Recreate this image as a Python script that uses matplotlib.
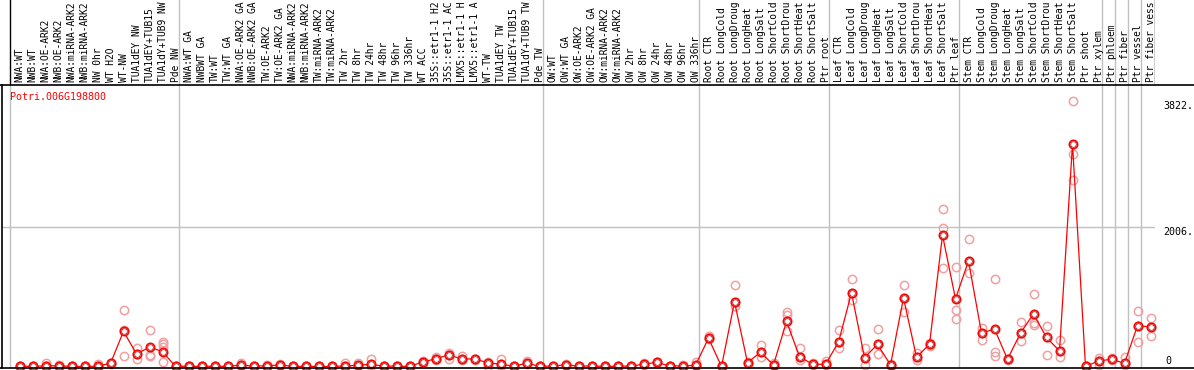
import matplotlib.pyplot as plt
from matplotlib.lines import Line2D

gene = "Potri.006G198800"

labels = [
    "NWA:WT", "NWB:WT", "NWA:OE-ARK2", "NWB:OE-ARK2", "NWA:miRNA-ARK2", "NWB:miRNA-ARK2",
    "NW 0hr", "WT H2O", "WT-NW", "TUA1dEY NW", "TUA1dEY+TUB15", "TUA1dY+TUB9 NW", "Pde NW",
    "NWA:WT GA", "NWBWT GA", "TW:WT", "TW:WT GA", "NWA:OE-ARK2 GA", "NWB:OE-ARK2 GA",
    "TW:OE-ARK2", "TW:OE-ARK2 GA", "NWA:miRNA-ARK2", "NWB:miRNA-ARK2", "TW:miRNA-ARK2",
    "TW:miRNA-ARK2", "TW 2hr", "TW 8hr", "TW 24hr", "TW 48hr", "TW 96hr", "TW 336hr", "WT ACC",
    "35S::etr1-1 H2", "35S::etr1-1 AC", "LMX5::etr1-1 H", "LMX5::etr1-1 A", "WT-TW",
    "TUA1dEY TW", "TUA1dEY+TUB15", "TUA1dY+TUB9 TW", "Pde TW",
    "OW:WT", "OW:WT GA", "OW:OE-ARK2", "OW:OE-ARK2 GA", "OW:miRNA-ARK2", "OW:miRNA-ARK2",
    "OW 2hr", "OW 8hr", "OW 24hr", "OW 48hr", "OW 96hr", "OW 336hr",
    "Root CTR", "Root LongCold", "Root LongDroug", "Root LongHeat", "Root LongSalt",
    "Root ShortCold", "Root ShortDrou", "Root ShortHeat", "Root ShortSalt", "Ptr root",
    "Leaf CTR", "Leaf LongCold", "Leaf LongDroug", "Leaf LongHeat", "Leaf LongSalt",
    "Leaf ShortCold", "Leaf ShortDrou", "Leaf ShortHeat", "Leaf ShortSalt", "Ptr leaf",
    "Stem CTR", "Stem LongCold", "Stem LongDroug", "Stem LongHeat", "Stem LongSalt",
    "Stem ShortCold", "Stem ShortDrou", "Stem ShortHeat", "Stem ShortSalt", "Ptr shoot",
    "Ptr xylem", "Ptr phloem", "Ptr fiber", "Ptr vessel", "Ptr fiber vess",
]

means = [5, 0, 10, 10, 0, 0, 5, 45, 505, 181,
         278, 215, 0, 5, 0, 5, 0, 22, 5, 10,
         22, 3, 3, 0, 0, 8, 17, 32, 5, 5,
         0, 65, 109, 167, 109, 109, 55, 32, 5, 46,
         5, 5, 26, 5, 8, 0, 5, 5, 32, 60,
         8, 8, 17, 408, 0, 930, 55, 205, 22, 649,
         142, 32, 32, 350, 1060, 128, 318, 22, 987, 133,
         321, 1890, 973, 1518, 481, 539, 104, 481, 756, 417,
         225, 3198, 0, 80, 104, 46, 587, 568]

reps = [
    [0, 5, 10], [0, 0, 5], [5, 10, 50], [5, 10, 20], [0, 0, 5], [0, 0, 5], [0, 5, 30],
    [40, 45, 50], [152, 529, 808], [104, 181, 272], [152, 166, 529], [70, 287, 321, 355],
    [0, 0, 5], [0, 5, 10], [0, 0, 5], [0, 5, 10], [0, 0, 5], [10, 22, 46], [0, 5, 10],
    [5, 10, 20], [15, 22, 30], [0, 3, 8], [0, 3, 5], [0, 0, 2], [0, 0, 2], [5, 8, 46],
    [10, 17, 55], [10, 32, 113], [0, 5, 10], [0, 5, 10], [0, 0, 3], [55, 65, 75],
    [94, 109, 142], [104, 167, 200], [95, 109, 152], [100, 109, 115], [0, 55, 60],
    [10, 32, 109], [0, 5, 8], [30, 46, 84], [0, 5, 8], [0, 5, 8], [20, 26, 35],
    [0, 5, 8], [0, 5, 10], [0, 0, 0], [0, 5, 8], [0, 5, 8], [25, 32, 45], [45, 60, 70],
    [5, 8, 12], [5, 8, 15], [10, 17, 60], [400, 408, 442], [0, 0, 0], [866, 930, 1176],
    [50, 55, 60], [142, 205, 311], [10, 22, 45], [504, 746, 780], [100, 142, 263],
    [25, 32, 45], [20, 32, 84], [263, 350, 529], [963, 1060, 1253], [22, 128, 263],
    [181, 318, 539], [10, 22, 40], [780, 987, 1166], [94, 133, 200], [300, 321, 340],
    [1422, 1992, 2267], [683, 818, 1436], [1350, 1518, 1828], [374, 481, 553],
    [152, 215, 1263], [90, 104, 115], [360, 481, 640], [601, 620, 1046], [167, 417, 587],
    [142, 225, 384], [2677, 3049, 3822], [0, 0, 0], [22, 80, 118], [90, 104, 120],
    [20, 46, 142], [355, 587, 804], [437, 568, 703],
]

group_breaks = [13, 41, 53, 63, 73, 84, 85, 86, 87]
tick_values = [2006, 3822]

W, H = 1194, 370
mono = "DejaVu Sans Mono"
fs = 6.9
gray = "#c0c0c0"

fig = plt.figure(figsize=(W / 100, H / 100), dpi=100)


def px_box(x0, y0, x1, y1):
    # pixel box (top-left origin) -> figure fraction rect
    return [x0 / W, 1 - y1 / H, (x1 - x0) / W, (y1 - y0) / H]


def to_x(px):
    return (px - 19.5) / 13


xlim = (to_x(2), to_x(1155))

# main plot
ax = fig.add_axes(px_box(2, 85, 1155, 368))
ax.set_xlim(*xlim)
ax.set_ylim(-21.6, 4048)
for s in ["top", "right", "bottom"]:
    ax.spines[s].set_visible(False)
ax.spines["left"].set_linewidth(1.2)
ax.set_xticks([])
ax.set_yticks([])

sep = [to_x(10)] + [to_x(10 + 13 * k) for k in group_breaks]
for x in sep:
    ax.axvline(x, color=gray, lw=1, zorder=0)
ax.axhline(2006, color=gray, lw=1, zorder=0)

xs = list(range(len(means)))
for i, r in enumerate(reps):
    ax.plot([i] * len(r), r, "o", ms=6, mfc="none", mec="#f0a0a0", mew=1.1,
            zorder=2, clip_on=False)
ax.plot(xs, means, "-", color="red", lw=0.9, zorder=3, clip_on=False)
ax.plot(xs, means, "o", ms=6, mfc="white", mec="red", mew=1.2, zorder=4, clip_on=False)
ax.plot(xs, means, "o", ms=4.0, mfc="none", mec="#8a0000", mew=0.45, zorder=5, clip_on=False)

# right-hand value labels
for v in tick_values:
    ax.text(to_x(1163), v, f"{v}.", family=mono, fontsize=7.2, va="top", ha="left",
            clip_on=False)
ax.text(to_x(1165), 0, "0", family=mono, fontsize=7.2, va="bottom", ha="left", clip_on=False)

# header with rotated sample names
hx = fig.add_axes(px_box(2, 0, 1155, 85))
hx.set_xlim(*xlim)
hx.set_ylim(0, 85)
hx.axis("off")
for i, lab in enumerate(labels):
    hx.text(i, 2.5, lab, family=mono, fontsize=fs, rotation=90, ha="center", va="bottom",
            clip_on=True)
hx.axvline(to_x(10), color="black", lw=1)
hx.axvline(to_x(1155), color="black", lw=1)
for k in group_breaks:
    hx.axvline(to_x(10 + 13 * k), color=gray, lw=1)

# full-width rules
fig.add_artist(Line2D([0, 1], [1 - 85 / H] * 2, color="black", lw=1.2))
fig.add_artist(Line2D([0, 1], [1 - 368 / H] * 2, color="black", lw=1.2))

fig.text(10 / W, 1 - 97 / H, gene, color="red", family=mono, fontsize=7.2, va="center")

plt.savefig("out.png", dpi=100)
